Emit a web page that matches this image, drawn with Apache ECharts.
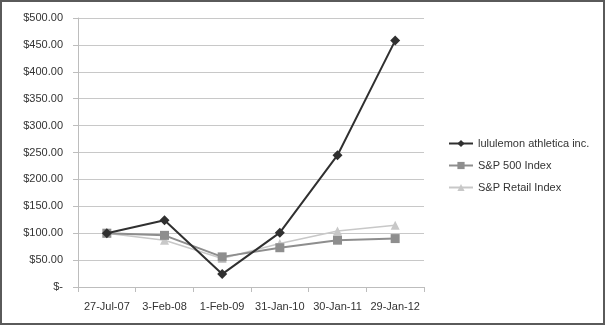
<!DOCTYPE html>
<html><head><meta charset="utf-8">
<script src="https://cdn.jsdelivr.net/npm/echarts@6/dist/echarts.min.js"></script>
<style>html,body{margin:0;padding:0;background:#fff}#c{width:605px;height:325px;box-sizing:border-box;border:2px solid #5a5a5a}</style>
</head><body><div id="c"></div>
<script>
const categories = ['27-Jul-07','3-Feb-08','1-Feb-09','31-Jan-10','30-Jan-11','29-Jan-12'];
const lululemon = [100, 124, 24, 101, 245, 458];
const sp500 = [100, 96, 56, 73, 87, 90];
const spRetail = [100, 87, 53, 81, 104, 115];
const seriesNames = ['lululemon athletica inc.','S&P 500 Index','S&P Retail Index'];

const chart = echarts.init(document.getElementById('c'));
const font = 'Liberation Sans, Arial, sans-serif';
chart.setOption({
  animation: false,
  textStyle: {fontFamily: font},
  grid: {left: 76, right: 179, top: 16, bottom: 36},
  legend: {
    orient: 'vertical', left: 441, top: 131, itemGap: 11,
    itemWidth: 24, itemHeight: 9,
    textStyle: {fontFamily: font, fontSize: 11, color: '#333'},
    data: seriesNames
  },
  xAxis: {
    type: 'category', data: categories, boundaryGap: true,
    axisLine: {lineStyle: {color: '#bdbdbd'}},
    axisTick: {show: true, length: 5, lineStyle: {color: '#bdbdbd'}},
    axisLabel: {color: '#333', fontSize: 11, margin: 14, fontFamily: font, interval: 0, hideOverlap: false}
  },
  yAxis: {
    type: 'value', min: 0, max: 500, interval: 50,
    axisLine: {show: true, lineStyle: {color: '#bdbdbd'}},
    axisTick: {show: true, length: 5, lineStyle: {color: '#bdbdbd'}},
    splitLine: {lineStyle: {color: '#c8c8c8'}},
    axisLabel: {color: '#333', fontSize: 11, margin: 15, fontFamily: font,
      formatter: v => v === 0 ? '$-' : '$' + v.toFixed(2)}
  },
  series: [
    {name: seriesNames[0], type: 'line', data: lululemon, symbol: 'diamond', symbolSize: 10,
      itemStyle: {color: '#303030'}, lineStyle: {color: '#303030', width: 2}, z: 3},
    {name: seriesNames[1], type: 'line', data: sp500, symbol: 'rect', symbolSize: 9,
      itemStyle: {color: '#8e8e8e'}, lineStyle: {color: '#8e8e8e', width: 2}, z: 2},
    {name: seriesNames[2], type: 'line', data: spRetail, symbol: 'triangle', symbolSize: 9,
      itemStyle: {color: '#c8c8c8'}, lineStyle: {color: '#c8c8c8', width: 1.5}, z: 1}
  ]
});
</script></body></html>
